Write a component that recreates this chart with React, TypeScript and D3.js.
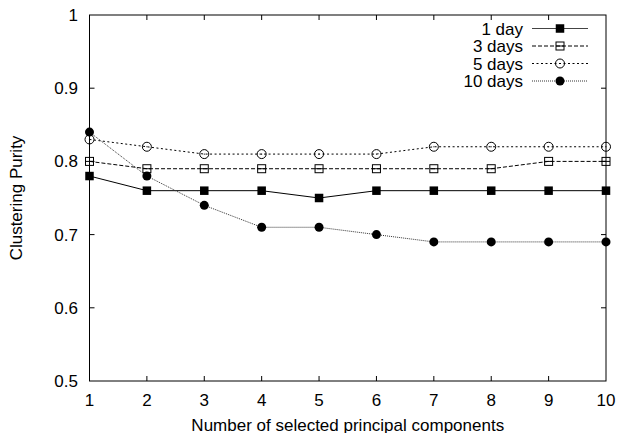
import React from "react";
import * as d3 from "d3";

const components = [1, 2, 3, 4, 5, 6, 7, 8, 9, 10];
const oneDay = [0.78, 0.76, 0.76, 0.76, 0.75, 0.76, 0.76, 0.76, 0.76, 0.76];
const threeDays = [0.8, 0.79, 0.79, 0.79, 0.79, 0.79, 0.79, 0.79, 0.8, 0.8];
const fiveDays = [0.83, 0.82, 0.81, 0.81, 0.81, 0.81, 0.82, 0.82, 0.82, 0.82];
const tenDays = [0.84, 0.78, 0.74, 0.71, 0.71, 0.7, 0.69, 0.69, 0.69, 0.69];
const yTicks = [0.5, 0.6, 0.7, 0.8, 0.9, 1];
const seriesNames = ["1 day", "3 days", "5 days", "10 days"];

const W = 619;
const H = 433;
const L = 89.5, R = 606, T = 15, B = 381;
const FONT = "Liberation Sans, Arial, Helvetica, sans-serif";
const FS = 17;

type Marker = "fsq" | "osq" | "ocirc" | "fcirc";

const series: { name: string; values: number[]; dash: string; marker: Marker; stroke: string; width: number }[] = [
  { name: seriesNames[0], values: oneDay, dash: "", marker: "fsq", stroke: "#000", width: 1 },
  { name: seriesNames[1], values: threeDays, dash: "4,2", marker: "osq", stroke: "#000", width: 1 },
  { name: seriesNames[2], values: fiveDays, dash: "2,2.5", marker: "ocirc", stroke: "#000", width: 1 },
  { name: seriesNames[3], values: tenDays, dash: "1,1", marker: "fcirc", stroke: "#333", width: 1 },
];

function MarkerShape({ kind, x, y }: { kind: Marker; x: number; y: number }) {
  const s = 8.5;
  if (kind === "fsq") return <rect x={x - s / 2} y={y - s / 2} width={s} height={s} fill="#000" />;
  if (kind === "osq")
    return (
      <g>
        <rect x={x - 4} y={y - 4} width={8} height={8} fill="none" stroke="#000" strokeWidth={1} />
        <line x1={x - 4} x2={x + 4} y1={y} y2={y} stroke="#000" strokeWidth={1} />
      </g>
    );
  if (kind === "ocirc")
    return (
      <g>
        <circle cx={x} cy={y} r={4.5} fill="none" stroke="#000" strokeWidth={1} />
        <circle cx={x} cy={y} r={0.6} fill="#000" />
      </g>
    );
  return <circle cx={x} cy={y} r={4.5} fill="#000" />;
}

export default function App() {
  const x = d3.scaleLinear().domain([1, 10]).range([L, R]);
  const y = d3.scaleLinear().domain([0.5, 1]).range([B, T]);
  const line = d3
    .line<number>()
    .x((_, i) => x(components[i]))
    .y((d) => y(d));
  const tick = 5;
  const legendRows = [28.5, 46, 63.5, 81];

  return (
    <svg width={W} height={H} style={{ position: "absolute", left: 0, top: 0, background: "#fff" }}>
      <rect x={0} y={0} width={W} height={H} fill="#fff" />
      {components.map((c) => (
        <g key={"xt" + c}>
          {c > 1 && c < 10 && (
            <>
              <line x1={x(c)} x2={x(c)} y1={B} y2={B - tick} stroke="#000" />
              <line x1={x(c)} x2={x(c)} y1={T} y2={T + tick} stroke="#000" />
            </>
          )}
          <text x={x(c)} y={405.5} textAnchor="middle" fontFamily={FONT} fontSize={FS}>
            {c}
          </text>
        </g>
      ))}
      {yTicks.map((v) => (
        <g key={"yt" + v}>
          {v > 0.5 && v < 1 && (
            <>
              <line x1={L} x2={L + tick} y1={y(v)} y2={y(v)} stroke="#000" />
              <line x1={R} x2={R - tick} y1={y(v)} y2={y(v)} stroke="#000" />
            </>
          )}
          <text x={78} y={y(v) + 6} textAnchor="end" fontFamily={FONT} fontSize={FS}>
            {String(v)}
          </text>
        </g>
      ))}
      {series.map((s) => (
        <g key={s.name}>
          <path d={line(s.values) || ""} fill="none" stroke={s.stroke} strokeWidth={s.width} strokeDasharray={s.dash || undefined} />
          {s.values.map((v, i) => (
            <MarkerShape key={i} kind={s.marker} x={x(components[i])} y={y(v)} />
          ))}
        </g>
      ))}
      {series.map((s, i) => (
        <g key={"lg" + s.name}>
          <text x={523} y={legendRows[i] + 6} textAnchor="end" fontFamily={FONT} fontSize={FS}>
            {s.name}
          </text>
          <line x1={532} x2={588} y1={legendRows[i]} y2={legendRows[i]} stroke={i === 0 ? "#444" : s.stroke} strokeWidth={s.width} strokeDasharray={s.dash || undefined} />
          <MarkerShape kind={s.marker} x={560} y={legendRows[i]} />
        </g>
      ))}
      <rect x={L} y={T} width={R - L} height={B - T} fill="none" stroke="#000" strokeWidth={1} />
      <text x={(L + R) / 2} y={430.5} textAnchor="middle" fontFamily={FONT} fontSize={FS}>
        Number of selected principal components
      </text>
      <text
        transform={`translate(22,${(T + B) / 2}) rotate(-90)`}
        textAnchor="middle"
        fontFamily={FONT}
        fontSize={FS}
      >
        Clustering Purity
      </text>
    </svg>
  );
}
